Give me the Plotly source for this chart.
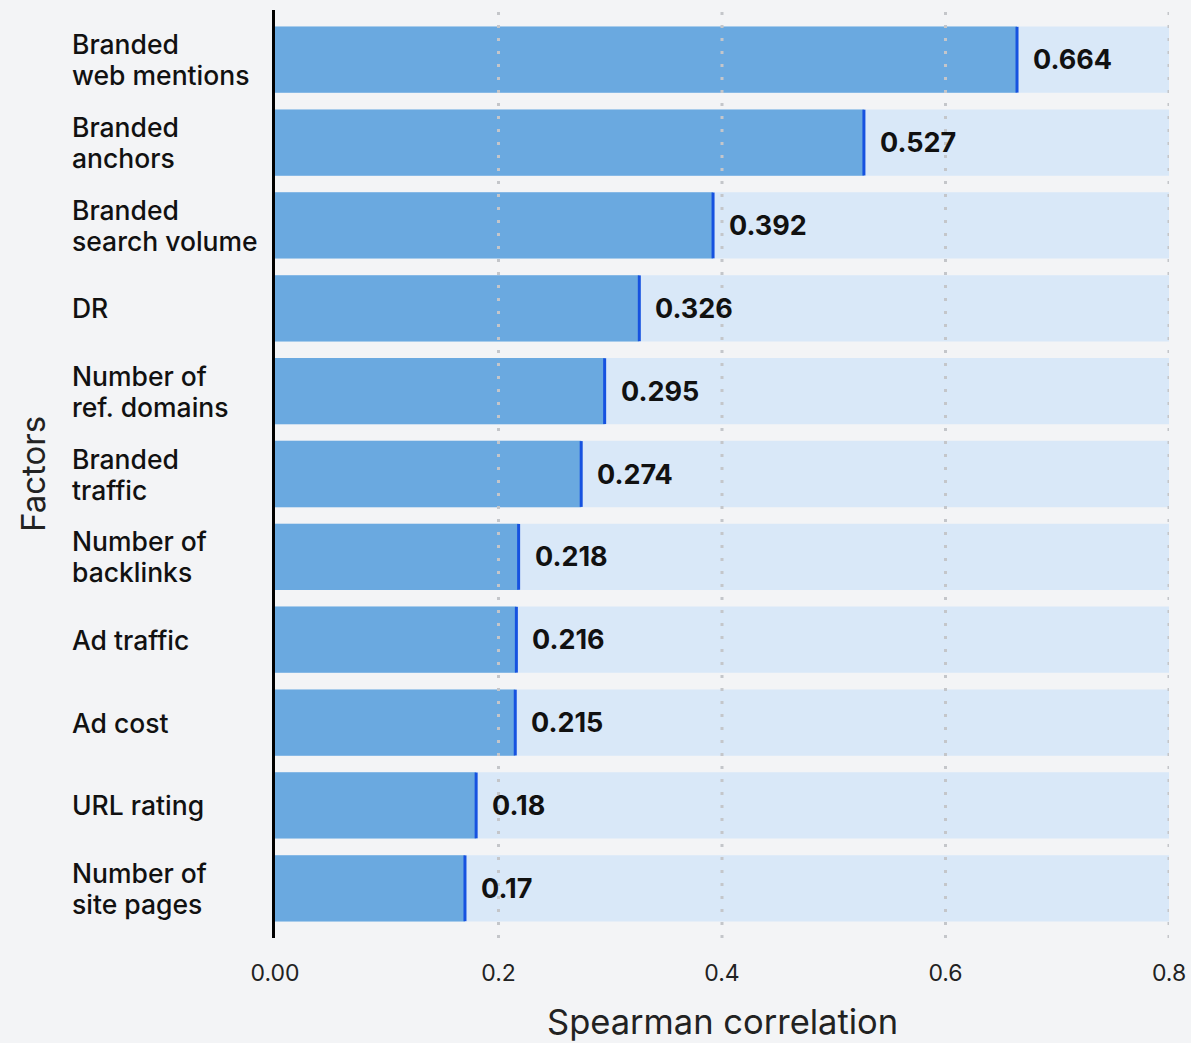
import plotly.graph_objects as go

# Ranking factors and their Spearman correlation values (top to bottom)
factors = [
    "Branded<br>web mentions",
    "Branded<br>anchors",
    "Branded<br>search volume",
    "DR",
    "Number of<br>ref. domains",
    "Branded<br>traffic",
    "Number of<br>backlinks",
    "Ad traffic",
    "Ad cost",
    "URL rating",
    "Number of<br>site pages",
]
correlations = [0.664, 0.527, 0.392, 0.326, 0.295, 0.274, 0.218, 0.216, 0.215, 0.18, 0.17]
value_labels = ["0.664", "0.527", "0.392", "0.326", "0.295", "0.274", "0.218", "0.216", "0.215", "0.18", "0.17"]

x_max = 0.8
tick_vals = [0.0, 0.2, 0.4, 0.6, 0.8]
tick_text = ["0.00", "0.2", "0.4", "0.6", "0.8"]
grid_vals = [0.2, 0.4, 0.6, 0.8]

cats = list(range(len(factors)))

PAGE_BG = "#f3f4f6"
TRACK = "#d9e8f8"
BAR = "#6aa9e0"
EDGE = "#1652e0"
FONT = "Inter"
LINE_GAP = 31  # px between label lines

fig = go.Figure()

# full-scale track behind each bar
fig.add_trace(go.Bar(
    y=cats, x=[x_max] * len(cats), orientation="h",
    marker=dict(color=TRACK, line=dict(width=0)),
    hoverinfo="skip", showlegend=False,
))

# correlation bars
fig.add_trace(go.Bar(
    y=cats, x=correlations, orientation="h",
    marker=dict(color=BAR, line=dict(width=0)),
    showlegend=False,
))

# end caps on each bar (line-ns length is 1.4 x marker size)
fig.add_trace(go.Scatter(
    y=cats, x=correlations, mode="markers",
    marker=dict(symbol="line-ns", size=47, line=dict(width=3, color=EDGE)),
    hoverinfo="skip", showlegend=False,
))

# dotted vertical gridlines drawn over the bars
for gv in grid_vals:
    fig.add_shape(
        type="line", xref="x", yref="paper", x0=gv, x1=gv, y0=0, y1=1,
        line=dict(color="#c4c6ca", width=3, dash="3px,10px"), layer="above",
    )

annotations = []
# value labels to the right of each bar
for c, v, t in zip(cats, correlations, value_labels):
    annotations.append(dict(
        x=v, y=c, xref="x", yref="y", text=t, showarrow=False,
        xanchor="left", yanchor="middle", xshift=14,
        font=dict(family=FONT, size=27, color="#111111", weight=700),
    ))
# left-aligned category labels, one annotation per line for tight spacing
for c, name in zip(cats, factors):
    lines = name.split("<br>")
    n = len(lines)
    for i, line in enumerate(lines):
        offset = ((n - 1) / 2 - i) * LINE_GAP
        annotations.append(dict(
            x=0, y=c, xref="paper", yref="y", text=line, showarrow=False,
            xanchor="left", yanchor="middle", xshift=-205, yshift=offset,
            font=dict(family=FONT, size=26.5, color="#111111", weight=500),
        ))
# axis titles
annotations.append(dict(
    x=0, y=0.5, xref="paper", yref="paper", text="Factors", showarrow=False,
    textangle=-90, xanchor="center", yanchor="middle", xshift=-242,
    font=dict(family=FONT, size=33, color="#222222"),
))
annotations.append(dict(
    x=0.5, y=0, xref="paper", yref="paper", text="Spearman correlation",
    showarrow=False, xanchor="center", yanchor="middle", yshift=-83,
    font=dict(family=FONT, size=34.5, color="#222222"),
))

fig.update_layout(
    width=1191, height=1043,
    paper_bgcolor=PAGE_BG, plot_bgcolor=PAGE_BG,
    margin=dict(l=275, r=22, t=10, b=105, autoexpand=False),
    barmode="overlay", bargap=0.2,
    annotations=annotations,
    xaxis=dict(
        range=[0, x_max], tickvals=tick_vals, ticktext=tick_text,
        showgrid=False, zeroline=False, showline=False,
        automargin=False, ticklabeloverflow="allow",
        ticks="", ticklabelstandoff=19,
        tickfont=dict(family=FONT, size=23, color="#222222"),
    ),
    yaxis=dict(
        range=[len(cats) - 0.4, -0.6], showticklabels=False,
        showgrid=False, zeroline=False, automargin=False,
        showline=True, linecolor="#000000", linewidth=3,
    ),
)

fig.write_html("out.html")
